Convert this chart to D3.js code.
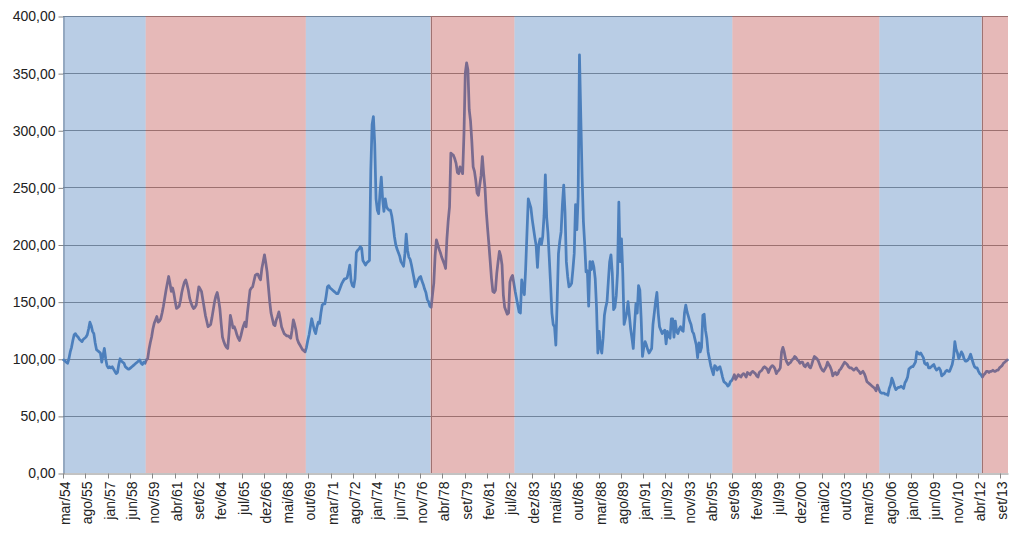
<!DOCTYPE html>
<html><head><meta charset="utf-8">
<script src="https://cdn.jsdelivr.net/npm/d3@7"></script>
<style>
body{margin:0;background:#fff}
svg{display:block}
text{font-family:"Liberation Sans",Arial,sans-serif}
</style>
</head><body>
<svg id="chart" width="1024" height="536"></svg>
<script>
// ---- data ----
const monthNames = ["jan","fev","mar","abr","mai","jun","jul","ago","set","out","nov","dez"];
const firstYear = 1954, firstMonth = 2; // mar/54

// monthly index values, mar/54 .. fev/14 (one row = 12 months starting in March)
const values = [
 99, 98, 97, 96, 100, 106, 110, 116, 121, 122, 120, 119,
 117, 116, 115, 117, 118, 119, 121, 126, 132, 129, 124, 122,
 114, 108, 107, 106, 105, 97, 103, 109, 100, 94, 92, 93,
 92, 93, 91, 89, 87, 88, 95, 100, 98, 97, 96, 93,
 92, 91, 91, 92, 93, 94, 95, 96, 97, 98, 99, 96,
 95, 97, 96, 99, 100, 108, 114, 119, 126, 131, 134, 137,
 132, 133, 135, 140, 146, 153, 160, 166, 172, 166, 159, 162,
 157, 150, 144, 145, 146, 151, 158, 163, 167, 169, 165, 160,
 153, 149, 146, 144, 145, 147, 155, 163, 161, 159, 152, 145,
 138, 133, 128, 129, 130, 136, 143, 150, 155, 158, 152, 144,
 131, 119, 115, 112, 110, 109, 122, 138, 133, 127, 128, 125,
 121, 118, 116, 120, 125, 129, 132, 128, 140, 150, 160, 162,
 163, 168, 173, 174, 174, 171, 169, 179, 185, 191, 184, 176,
 163, 150, 140, 135, 130, 129, 134, 137, 141, 135, 128, 125,
 122, 121, 120, 120, 119, 118, 125, 134, 130, 125, 117, 114,
 112, 110, 108, 107, 106, 110, 116, 121, 128, 135, 130, 125,
 122, 128, 132, 131, 140, 147, 148, 148, 155, 163, 164, 162,
 161, 160, 159, 158, 157, 157, 160, 163, 166, 168, 170, 170,
 171, 176, 182, 168, 164, 163, 170, 193, 195, 196, 198, 197,
 186, 184, 182, 184, 185, 186, 264, 305, 312, 288, 240, 230,
 227, 245, 259, 240, 229, 240, 233, 231, 230, 230, 225, 217,
 207, 200, 196, 193, 190, 185, 183, 181, 192, 209, 195, 189,
 187, 182, 176, 170, 163, 166, 169, 171, 172, 168, 165, 161,
 158, 152, 150, 146, 145, 156, 166, 190, 204, 200, 196, 193,
 189, 186, 183, 179, 205, 221, 233, 280, 279, 278, 275, 271,
 263, 262, 268, 265, 262, 297, 350, 359, 353, 318, 308, 290,
 268, 264, 256, 245, 243, 252, 260, 277, 262, 250, 229, 214,
 200, 185, 170, 159, 158, 160, 175, 185, 194, 190, 182, 156,
 145, 142, 139, 140, 167, 171, 173, 166, 159, 153, 147, 141,
 140, 169, 162, 156, 179, 210, 240, 236, 232, 222, 214, 206,
 199, 180, 200, 205, 200, 207, 225, 261, 224, 210, 188, 165,
 140, 130, 128, 112, 150, 192, 203, 211, 235, 252, 228, 185,
 172, 163, 164, 166, 178, 192, 235, 213, 242, 366, 312, 260,
 220, 200, 176, 177, 146, 185, 178, 185, 180, 170, 145, 105,
 124, 110, 105, 118, 138, 145, 150, 168, 185, 191, 175, 143,
 145, 155, 175, 237, 185, 205, 175, 130, 135, 140, 150, 138,
 126, 118, 109, 130, 148, 140, 164, 160, 135, 102, 110, 115,
 112, 108, 105, 107, 109, 130, 140, 150, 158, 140, 128, 125,
 122, 124, 125, 113, 124, 120, 118, 135, 135, 119, 133, 124,
 122, 126, 128, 125, 124, 140, 147, 141, 137, 133, 130, 124,
 122, 117, 112, 101, 114, 106, 110, 138, 139, 125, 118, 106,
 100, 94, 90, 86, 94, 93, 90, 92, 93, 89, 84, 80,
 79, 78, 76, 77, 80, 81, 83, 86, 82, 84, 86, 85,
 84, 86, 87, 86, 84, 88, 87, 86, 88, 89, 88, 87,
 85, 84, 88, 89, 90, 92, 93, 92, 91, 88, 91, 93,
 94, 93, 91, 87, 89, 90, 92, 106, 110, 106, 100, 97,
 95, 96, 97, 99, 100, 102, 101, 99, 98, 96, 97, 97,
 94, 93, 95, 96, 93, 92, 95, 99, 102, 101, 100, 98,
 95, 92, 90, 89, 91, 93, 97, 95, 93, 90, 85, 87,
 88, 86, 87, 90, 91, 93, 95, 97, 96, 95, 93, 92,
 92, 91, 90, 91, 92, 90, 89, 87, 88, 89, 87, 84,
 80, 79, 78, 77, 76, 75, 74, 72, 77, 74, 71, 70,
 70, 70, 69, 69, 68, 74, 77, 83, 80, 76, 73, 74,
 75, 75, 76, 75, 74, 79, 81, 84, 91, 92, 93, 93,
 95, 97, 106, 105, 104, 105, 103, 101, 96, 95, 96, 92,
 92, 93, 94, 95, 92, 90, 91, 92, 90, 85, 86, 87,
 89, 90, 89, 89, 92, 95, 101, 115, 108, 105, 100, 103,
 106, 104, 100, 98, 98, 99, 101, 104, 100, 96, 93, 92,
 92, 89, 87, 86, 84, 86, 87, 89, 89, 88, 89, 89,
 90, 89, 89, 90, 90, 92, 93, 94, 96, 97, 98, 99
];

const tickLabels = ["mar/54","ago/55","jan/57","jun/58","nov/59","abr/61","set/62","fev/64","jul/65","dez/66",
 "mai/68","out/69","mar/71","ago/72","jan/74","jun/75","nov/76","abr/78","set/79","fev/81","jul/82","dez/83",
 "mai/85","out/86","mar/88","ago/89","jan/91","jun/92","nov/93","abr/95","set/96","fev/98","jul/99","dez/00",
 "mai/02","out/03","mar/05","ago/06","jan/08","jun/09","nov/10","abr/12","set/13"];

const yTicks = [0, 50, 100, 150, 200, 250, 300, 350, 400];

// shaded periods (start month) and their colour class
const bandStarts = ["mar/54","jun/59","ago/69","jul/77","nov/82","set/96","jan/06","jul/12"];
const bandKinds  = ["azul","vermelho","azul","vermelho","azul","vermelho","azul","vermelho"];
const dividers = ["jul/77","jul/12"];

(function () {
// ---- derived category labels ----
const categories = values.map((_, i) => {
  const m = firstMonth + i;
  const yr = firstYear + Math.floor(m / 12);
  return monthNames[m % 12] + "/" + String(yr % 100).padStart(2, "0");
});

// ---- layout ----
const W = 1024, H = 536;
const pL = 63, pR = 1008, pT = 16, pB = 473;
const svg = d3.select("#chart");
svg.append("rect").attr("width", W).attr("height", H).attr("fill", "#fff");

const x = d3.scaleBand().domain(categories).range([pL, pR]).padding(0);
const y = d3.scaleLinear().domain([0, 400]).range([pB, pT]);
const bandColor = {azul: "#4F81BD", vermelho: "#C0504D"};
const font = '"Liberation Sans",Arial,sans-serif';

// gridlines
svg.append("g").selectAll("line").data(yTicks.filter(v => v > 0)).join("line")
  .attr("x1", pL).attr("x2", pR)
  .attr("y1", d => Math.round(y(d)) + 0.5).attr("y2", d => Math.round(y(d)) + 0.5)
  .attr("stroke", "#868686").attr("stroke-width", 1);

// value axis (line + outside ticks + labels)
const fmt = v => d3.format(".2f")(v).replace(".", ",");
const yAxis = svg.append("g").attr("transform", `translate(${pL + 0.5},0.5)`)
  .call(d3.axisLeft(y).tickValues(yTicks).tickSize(5).tickSizeOuter(0).tickFormat(fmt));
yAxis.select(".domain").attr("stroke", "#868686");
yAxis.selectAll(".tick line").attr("stroke", "#868686");
yAxis.selectAll(".tick text").attr("x", -8).attr("font-size", 14).attr("fill", "#222")
  .attr("font-family", font);

// dividers
svg.append("g").selectAll("line").data(dividers).join("line")
  .attr("x1", d => Math.round(x(d)) + 0.5).attr("x2", d => Math.round(x(d)) + 0.5)
  .attr("y1", pT).attr("y2", pB)
  .attr("stroke", "#8a8a8a").attr("stroke-width", 1);

// series line
const line = d3.line()
  .x((d, i) => x(categories[i]) + x.bandwidth() / 2)
  .y(d => y(d))
  .curve(d3.curveLinear);
svg.append("path").datum(values)
  .attr("d", line)
  .attr("fill", "none")
  .attr("stroke", "#4A7EBB")
  .attr("stroke-width", 2.75)
  .attr("stroke-linejoin", "round")
  .attr("stroke-linecap", "round");

// shaded bands (translucent, drawn over the series)
const bands = bandStarts.map((s, k) => ({
  x0: x(s),
  x1: k < bandStarts.length - 1 ? x(bandStarts[k + 1]) : pR,
  kind: bandKinds[k]
}));
svg.append("g").selectAll("rect").data(bands).join("rect")
  .attr("x", d => d.x0).attr("width", d => d.x1 - d.x0)
  .attr("y", pT).attr("height", pB - pT)
  .attr("fill", d => bandColor[d.kind]).attr("fill-opacity", 0.4);

// category axis
const xAxis = svg.append("g").attr("transform", `translate(0,${pB + 0.5})`)
  .call(d3.axisBottom(x).tickValues(tickLabels).tickSize(5).tickSizeOuter(0));
xAxis.select(".domain").attr("stroke", "#868686");
xAxis.selectAll(".tick").attr("transform", d => `translate(${Math.round(x(d)) + 0.5},0)`);
xAxis.selectAll(".tick line").attr("stroke", "#868686");
xAxis.selectAll(".tick text")
  .attr("transform", "rotate(-90)")
  .attr("x", -8).attr("y", 6).attr("dy", 0)
  .attr("text-anchor", "end")
  .attr("font-size", 14).attr("fill", "#222")
  .attr("font-family", font);
})();
</script>
</body></html>
